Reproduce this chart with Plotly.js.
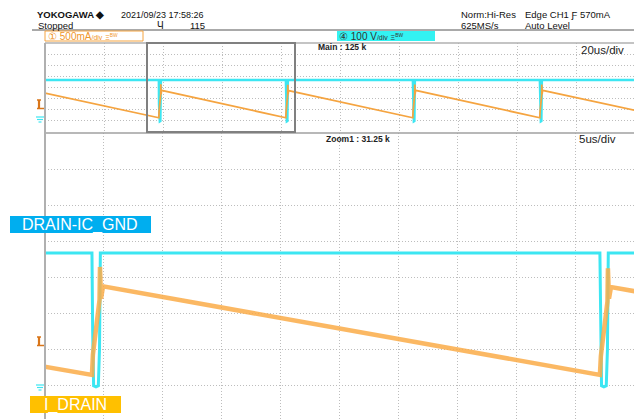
<!DOCTYPE html>
<html>
<head>
<meta charset="utf-8">
<script src="https://cdn.plot.ly/plotly-3.0.1.min.js"></script>
<style>html,body{margin:0;padding:0;background:#fff;}#plot{width:634px;height:419px;}</style>
</head>
<body>
<div id="plot"></div>
<script>
// ---- Data ----
// Time in microseconds from the left edge of the main (20 us/div) window
const T_V = [0, 38.58, 38.64, 38.72, 38.92, 39.12, 39.22, 39.29,
             81.63, 81.69, 81.77, 81.97, 82.17, 82.27, 82.34,
             124.68, 124.74, 124.82, 125.02, 125.22, 125.32, 125.39,
             167.73, 167.79, 167.87, 168.07, 168.27, 168.37, 168.44, 200];
// CH4 DRAIN-IC_GND voltage (V), 100 V/div
const V_DRAIN = [367, 367, 150, -2, -5, -2, 100, 367,
                 367, 150, -2, -5, -2, 100, 367,
                 367, 150, -2, -5, -2, 100, 367,
                 367, 150, -2, -5, -2, 100, 367, 367];
const T_I = [0, 38.58, 38.66, 39.22, 39.26, 39.35, 39.52,
             81.63, 81.71, 82.27, 82.31, 82.40, 82.57,
             124.68, 124.76, 125.32, 125.36, 125.45, 125.62,
             167.73, 167.81, 168.37, 168.41, 168.50, 168.67, 200];
// CH1 I_DRAIN current (A), 500 mA/div
const I_DRAIN = [1.25, 0.14, 0.42, 1.18, 1.64, 1.20, 1.37,
                 0.14, 0.40, 1.16, 1.62, 1.20, 1.36,
                 0.14, 0.42, 1.18, 1.63, 1.20, 1.37,
                 0.14, 0.41, 1.17, 1.63, 1.20, 1.37, 0.47];
// Axis settings (scope windows)
const MAIN_RANGE_US = [0, 199.66];      // 20 us/div
const ZOOM_RANGE_US = [34.6, 84.52];    // 5 us/div
const MAIN_DIV_US = 20, ZOOM_DIV_US = 5;
const V_RANGE_MAIN = [-100, 700], I_RANGE_MAIN = [-0.5, 3.5];
const V_RANGE_ZOOM = [-94.4, 700], I_RANGE_ZOOM = [-0.472, 3.5];
const V_DIV = 100, I_DIV = 0.5;

// ---- Layout helpers (pixel -> paper) ----
const W = 634, H = 419;
const px = x => x / W, py = y => 1 - y / H;
const SANS = 'Liberation Sans, Arial, sans-serif';
const ORANGE = '#F5A440', CYAN = '#3CE6F2';

const gridAx = {showgrid: true, gridcolor: '#bdbdbd', gridwidth: 1, griddash: '1px,2px',
  zeroline: false, showticklabels: false, ticks: '', showline: false, fixedrange: true};

const traces = [
  {x: T_V, y: V_DRAIN, xaxis: 'x', yaxis: 'y', mode: 'lines', line: {color: CYAN, width: 2.4}, hoverinfo: 'skip'},
  {x: T_I, y: I_DRAIN, xaxis: 'x', yaxis: 'y2', mode: 'lines', line: {color: ORANGE, width: 1.8}, hoverinfo: 'skip'},
  {x: T_V, y: V_DRAIN, xaxis: 'x2', yaxis: 'y3', mode: 'lines', line: {color: CYAN, width: 3}, hoverinfo: 'skip'},
  {x: T_I, y: I_DRAIN, xaxis: 'x2', yaxis: 'y4', mode: 'lines', line: {color: 'rgba(250,172,72,0.85)', width: 4.5}, hoverinfo: 'skip'}
];

function txt(text, x, y, size, color, extra) {
  return Object.assign({text: text, x: px(x), y: py(y), xref: 'paper', yref: 'paper',
    xanchor: 'left', yanchor: 'middle', showarrow: false,
    font: {family: SANS, size: size, color: color}}, extra || {});
}
function line(x0, y0, x1, y1, color, width) {
  return {type: 'line', xref: 'paper', yref: 'paper', x0: px(x0), y0: py(y0), x1: px(x1), y1: py(y1),
    line: {color: color, width: width}, layer: 'above'};
}
function rect(x0, y0, x1, y1, fill, lc, lw) {
  return {type: 'rect', xref: 'paper', yref: 'paper', x0: px(x0), y0: py(y0), x1: px(x1), y1: py(y1),
    fillcolor: fill, line: {color: lc, width: lw}, layer: 'above'};
}
function ground(x, y) {
  return [line(x, y, x + 8, y, CYAN, 1.2), line(x + 1, y + 2.5, x + 7, y + 2.5, CYAN, 1.2),
          line(x + 2.5, y + 5, x + 5.5, y + 5, CYAN, 1.2)];
}
function trigMark(x, y) {
  return [line(x + 3, y - 4.5, x + 3, y + 4, '#D9761A', 2.2), line(x + 1, y - 4.5, x + 5, y - 4.5, '#D9761A', 1.5),
          line(x + 1, y + 4, x + 8, y + 4, '#D9761A', 1.5)];
}

const shapes = [
  line(32, 30, 634, 30, '#555', 1),
  rect(45, 31, 143, 41, '#fff', ORANGE, 1),
  rect(337, 31, 435, 41, '#33F2F2', 'rgba(0,0,0,0)', 0),
  line(45, 43, 634, 43, '#b0b0b0', 1.5),
  line(45, 133, 634, 133, '#a0a0a0', 1.5),
  line(45, 43, 45, 419, '#b0b0b0', 2),
  rect(147, 43, 295, 132, 'rgba(0,0,0,0)', '#808080', 2),
  rect(10, 216, 151, 233, '#00AEEF', 'rgba(0,0,0,0)', 0),
  rect(30, 396, 121, 413, '#FFC000', 'rgba(0,0,0,0)', 0)
].concat(ground(36, 117), ground(36, 385), trigMark(36, 104.5), trigMark(36, 341.5));

const HS = 9.5;
const annotations = [
  txt('<b>YOKOGAWA ◆</b>', 35, 15, 9.5, '#111'),
  txt('2021/09/23 17:58:26', 119, 15, 9, '#111'),
  txt('Stopped', 36, 25, HS, '#111'),
  txt('Ч', 155, 25, 10, '#111'),
  txt('115', 188, 25, HS, '#111'),
  txt('Norm:Hi-Res', 459, 15, HS, '#111'),
  txt('625MS/s', 459, 25, HS, '#111'),
  txt('Edge CH1 Ƒ 570mA', 523, 15, HS, '#111'),
  txt('Auto Level', 523, 25, HS, '#111'),
  txt('① 500mA<span style="font-size:7px">/div</span> <span style="font-size:7px">Ξ<sup>BW</sup></span>', 46, 36, 10, '#F0962A'),
  txt('④ 100 V<span style="font-size:7px">/div</span> <span style="font-size:7px">Ξ<sup>BW</sup></span>', 337, 36, 10, '#333'),
  txt('<b>Main : 125 k</b>', 316, 47, 8.5, '#222'),
  txt('20us/div', 579, 50, 11.5, '#222'),
  txt('<b>Zoom1 : 31.25 k</b>', 324, 139, 8.5, '#222'),
  txt('5us/div', 577, 139, 11.5, '#222'),
  {text: 'DRAIN-IC_GND', x: px(80.5), y: py(224.5), xref: 'paper', yref: 'paper', xanchor: 'center', yanchor: 'middle',
   showarrow: false, font: {family: SANS, size: 16, color: '#fff'}},
  {text: 'I_DRAIN', x: px(75.5), y: py(404.5), xref: 'paper', yref: 'paper', xanchor: 'center', yanchor: 'middle',
   showarrow: false, font: {family: SANS, size: 16, color: '#fff'}}
];

const layout = {
  width: W, height: H, autosize: false, showlegend: false,
  margin: {l: 0, r: 0, t: 0, b: 0, pad: 0},
  paper_bgcolor: '#fff', plot_bgcolor: '#fff',
  xaxis: Object.assign({}, gridAx, {domain: [px(45), 1], range: MAIN_RANGE_US, tick0: 0, dtick: MAIN_DIV_US, anchor: 'y'}),
  yaxis: Object.assign({}, gridAx, {domain: [py(132), py(43)], range: V_RANGE_MAIN, tick0: 0, dtick: V_DIV, anchor: 'x'}),
  yaxis2: Object.assign({}, gridAx, {showgrid: false, overlaying: 'y', range: I_RANGE_MAIN, anchor: 'x'}),
  xaxis2: Object.assign({}, gridAx, {domain: [px(45), 1], range: ZOOM_RANGE_US, tick0: ZOOM_RANGE_US[0], dtick: ZOOM_DIV_US, anchor: 'y3'}),
  yaxis3: Object.assign({}, gridAx, {domain: [0, py(133)], range: V_RANGE_ZOOM, tick0: 0, dtick: V_DIV, anchor: 'x2'}),
  yaxis4: Object.assign({}, gridAx, {showgrid: false, overlaying: 'y3', range: I_RANGE_ZOOM, anchor: 'x2'}),
  shapes: shapes,
  annotations: annotations
};

Plotly.newPlot('plot', traces, layout, {staticPlot: true, displayModeBar: false});
</script>
</body>
</html>
